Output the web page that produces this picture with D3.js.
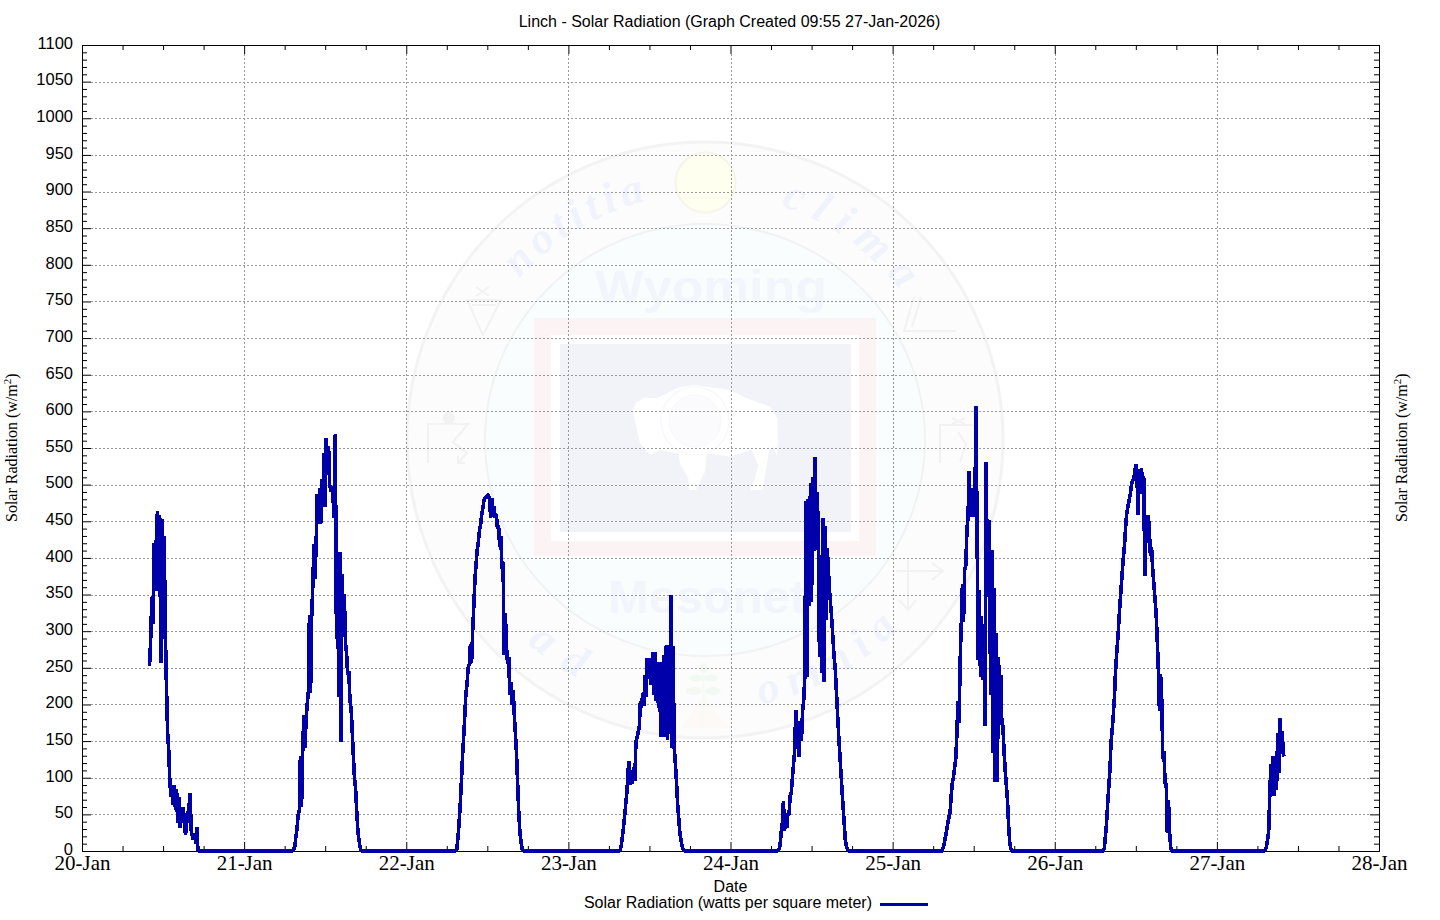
<!DOCTYPE html>
<html><head><meta charset="utf-8">
<script src="https://cdn.jsdelivr.net/npm/d3@7"></script>
<style>
html,body{margin:0;padding:0;background:#fff;}
svg{display:block;}
.axis path.domain{stroke:#000;}
.axis line{stroke:#000;}
</style></head>
<body><div id="chart"></div>
<script>
// Each peak: 10-minute samples (W/m2) starting at the matching hour after 20-Jan 00:00
const sampleStepHours = 1 / 6;
const peakStartHours = [10, 31, 55.1667, 79.5, 103, 127.3333, 151.1667, 175];
const peak1 = [253,288,347,310,420,355,424,464,355,458,257,453,290,430,300,226,163,138,95,74,88,63,90,56,85,38,74,31,60,40,60,35,22,38,50,60,79,29,20,15,24,10,33,0];
const peak2 = [0,0,2,6,20,30,50,55,130,60,135,185,140,178,200,215,322,215,320,363,419,371,422,487,446,496,446,507,469,543,469,563,520,552,500,491,498,480,455,569,290,400,210,408,149,378,310,350,285,270,240,245,205,195,165,130,100,85,55,28,15,5,0];
const peak3 = [0,0,3,20,40,65,95,130,155,185,215,228,250,255,282,256,300,335,370,392,410,421,437,445,458,468,478,482,484,485,487,478,455,482,463,470,455,460,440,445,415,430,385,395,268,325,280,255,265,213,230,200,220,185,160,130,90,50,25,12,2,0];
const peak4 = [0,2,8,20,33,48,65,80,110,123,90,110,92,115,96,150,155,162,170,205,195,216,198,240,210,263,240,263,227,245,272,213,272,205,258,195,258,155,258,155,268,155,281,152,281,160,349,141,280,141,120,95,65,45,25,15,6,2,0];
const peak5 = [0,2,8,25,38,68,27,52,32,52,50,75,80,100,118,138,193,140,161,129,177,150,190,205,238,477,238,480,334,502,340,511,409,538,411,490,436,265,404,243,454,231,443,315,413,381,355,335,315,290,265,250,220,190,160,135,110,85,60,38,15,5,2,0];
const peak6 = [0,5,12,20,28,38,46,52,75,93,100,113,125,156,204,175,261,311,365,313,384,390,438,456,518,456,495,456,470,456,607,438,261,356,238,320,234,302,170,531,347,447,452,213,411,134,359,94,297,94,265,215,240,175,170,135,110,90,70,35,12,3,0];
const peak7 = [0,3,20,38,65,88,110,148,165,185,210,245,270,289,315,339,360,382,402,418,443,462,470,478,486,498,505,508,515,528,515,459,521,487,523,500,512,375,459,421,459,439,403,415,385,365,345,325,290,248,191,241,207,125,136,91,93,25,70,25,5,0];
const peak8 = [0,2,6,15,27,77,118,77,129,75,97,84,161,106,182,132,163,132,129];
const peaks = [peak1,peak2,peak3,peak4,peak5,peak6,peak7,peak8];

const dayLabels = ["20-Jan","21-Jan","22-Jan","23-Jan","24-Jan","25-Jan","26-Jan","27-Jan","28-Jan"];
const yMajorTicks = d3.range(0, 1101, 50);
const yMinorTicks = d3.range(0, 1101, 10).filter(d => d % 50 !== 0);
const xMajorTicks = dayLabels.map((d,i) => i * 24);
const xMinorTicks = d3.range(0, 193, 6).filter(d => d % 24 !== 0);

const W = 1440, H = 920;
const m = {l:82, r:1379, t:45, b:851};
const svg = d3.select("#chart").append("svg").attr("width",W).attr("height",H);
const x = d3.scaleLinear().domain([0,192]).range([m.l,m.r]);
const y = d3.scaleLinear().domain([0,1100]).range([m.b,m.t]);
const sans = "'Liberation Sans',Arial,sans-serif", serif = "'Liberation Serif','Times New Roman',serif";

/* ---------- faint background seal ---------- */
const wm = svg.append("g").attr("class","watermark");
const cx = 705, cy = 440;
wm.append("ellipse").attr("cx",cx).attr("cy",cy).attr("rx",298).attr("ry",298).attr("fill","#fcfcfc").attr("stroke","#f3f3f3").attr("stroke-width",3);
wm.append("ellipse").attr("cx",cx).attr("cy",cy).attr("rx",220).attr("ry",216).attr("fill","#f9fdfe").attr("stroke","#f1f3f3").attr("stroke-width",2);
wm.append("circle").attr("cx",705.5).attr("cy",182.5).attr("r",30).attr("fill","#fffff0").attr("stroke","#f5f5ea").attr("stroke-width",2);
wm.append("rect").attr("x",534).attr("y",318).attr("width",342).attr("height",238).attr("fill","#fcf4f4");
wm.append("rect").attr("x",551).attr("y",335).attr("width",308).attr("height",206).attr("fill","#ffffff");
wm.append("rect").attr("x",560).attr("y",344).attr("width",291).attr("height",188).attr("fill","#f2f3f9");
// bison
const bison = [[38,105],[50,80],[75,68],[110,70],[135,58],[170,40],[220,30],[270,37],[330,45],[380,70],[450,95],[472,130],[474,200],[470,245],[462,215],[448,225],[440,270],[428,345],[390,345],[405,310],[415,270],[395,225],[330,245],[260,235],[255,290],[228,345],[207,345],[205,310],[180,265],[175,235],[120,225],[90,240],[60,205],[45,140]];
wm.append("path").attr("d", d3.line().x(d=>620+d[0]/3).y(d=>375+d[1]/3)(bison)+"Z").attr("fill","#ffffff");
wm.append("circle").attr("cx",695).attr("cy",421).attr("r",34).attr("fill","none").attr("stroke","#f7f8fb").attr("stroke-width",1.5);
wm.append("circle").attr("cx",695).attr("cy",421).attr("r",26).attr("fill","#fbfbfd").attr("stroke","#f7f8fb");
// words
const wmBold = {fill:"#f3f5fc","font-family":sans,"font-weight":"bold"};
function wmText(t,px,py,fs,wd){
  const s = wm.append("text").attr("x",px).attr("y",py).attr("text-anchor","middle").attr("font-size",fs).attr("textLength",wd).attr("lengthAdjust","spacingAndGlyphs").text(t);
  Object.entries(wmBold).forEach(([k,v])=>s.attr(k,v));
}
wmText("Wyoming",711,303,46,232);
wmText("Mesonet",707,613,46,198);
const defs = svg.append("defs");
defs.append("path").attr("id","arcTop").attr("d",`M ${cx-246} ${cy} A 246 246 0 0 1 ${cx+246} ${cy}`);
defs.append("path").attr("id","arcBot").attr("d",`M ${cx-270} ${cy} A 270 270 0 0 0 ${cx+270} ${cy}`);
function arcText(id,t,off,ls,fs){
  wm.append("text").attr("font-family",serif).attr("font-style","italic").attr("font-weight","bold").attr("font-size",fs)
    .attr("letter-spacing",ls).attr("fill","#f1f3fc")
    .append("textPath").attr("href","#"+id).attr("startOffset",off).text(t);
}
arcText("arcTop","notitia",176,5.5,44);
arcText("arcTop","clima",463,12,44);
arcText("arcBot","ad",230,18,44);
arcText("arcBot","omnia",480,11,44);
// small symbols
const symbols = [
  "M467 300H501L483 335Z","M472 305H496","M476 287L489 296M476 296L489 287",
  "M428 463V424H468L453 442L467 453L458 463M458 456V463H465",
  "M914 297L904 331H956M921 297L912 327",
  "M940 463V425H973M952 418L965 424M952 424L965 418M958 432L966 444L960 462",
  "M908 560V610M896 571H943M932 563L943 571L932 580M899 600L908 610L916 600"];
symbols.forEach(p=>wm.append("path").attr("d",p).attr("fill","none").attr("stroke","#f2f2f2").attr("stroke-width",2));
wm.append("circle").attr("cx",449).attr("cy",418).attr("r",6).attr("fill","#f2f2f2");
wm.append("path").attr("d","M681 728L703.5 697L728 728Z").attr("fill","#fdf9f7");
wm.append("path").attr("d","M703.5 663V727").attr("stroke","#f6faf6").attr("stroke-width",2);
[[703.5,668,4,5],[696,678,7,3.5],[711,678,7,3.5],[694,691,8,4],[713,691,8,4]].forEach(e=>
  wm.append("ellipse").attr("cx",e[0]).attr("cy",e[1]).attr("rx",e[2]).attr("ry",e[3]).attr("fill","#f2f9f2"));

/* ---------- grid ---------- */
const gridStyle = g => g.attr("stroke","#999").attr("stroke-width",1).attr("stroke-dasharray","2,2").attr("fill","none").attr("shape-rendering","crispEdges");
const grid = svg.append("g").call(gridStyle);
grid.selectAll(".gy").data(yMajorTicks.filter(d=>d>0&&d<1100)).join("line")
  .attr("x1",m.l+9).attr("x2",m.r-9).attr("y1",d=>Math.round(y(d))+.5).attr("y2",d=>Math.round(y(d))+.5);
grid.selectAll(".gx").data(xMajorTicks.slice(1,-1)).join("line")
  .attr("y1",m.t+9).attr("y2",m.b-9).attr("x1",d=>Math.round(x(d))+.5).attr("x2",d=>Math.round(x(d))+.5);

/* ---------- axes ---------- */
function addAxis(axis, tx, ty){
  return svg.append("g").attr("class","axis").attr("transform",`translate(${tx},${ty})`).call(axis);
}
const noLabel = () => "";
const yl = addAxis(d3.axisLeft(y).tickValues(yMajorTicks).tickSizeInner(-9).tickSizeOuter(0).tickPadding(9).tickFormat(d3.format("d")), m.l, 0);
addAxis(d3.axisLeft(y).tickValues(yMinorTicks).tickSizeInner(-5).tickSizeOuter(0).tickFormat(noLabel), m.l, 0);
addAxis(d3.axisRight(y).tickValues(yMajorTicks).tickSizeInner(-9).tickSizeOuter(0).tickFormat(noLabel), m.r, 0);
addAxis(d3.axisRight(y).tickValues(yMinorTicks).tickSizeInner(-5).tickSizeOuter(0).tickFormat(noLabel), m.r, 0);
const xb = addAxis(d3.axisBottom(x).tickValues(xMajorTicks).tickSizeInner(-9).tickSizeOuter(0).tickFormat((d,i)=>dayLabels[i]), 0, m.b);
addAxis(d3.axisBottom(x).tickValues(xMinorTicks).tickSizeInner(-5).tickSizeOuter(0).tickFormat(noLabel), 0, m.b);
addAxis(d3.axisTop(x).tickValues(xMajorTicks).tickSizeInner(-9).tickSizeOuter(0).tickFormat(noLabel), 0, m.t);
addAxis(d3.axisTop(x).tickValues(xMinorTicks).tickSizeInner(-5).tickSizeOuter(0).tickFormat(noLabel), 0, m.t);
yl.selectAll("text").attr("font-family",sans).attr("font-size",16.5).attr("fill","#000").attr("dy","0.2em");
xb.selectAll("text").attr("font-family",serif).attr("font-size",21).attr("fill","#000").attr("y",19).attr("dy",0);

/* ---------- data line ---------- */
const points = [];
peaks.forEach((vals,k)=>vals.forEach((v,i)=>points.push([peakStartHours[k]+i*sampleStepHours, v])));
const line = d3.line().x(d=>x(d[0])).y(d=>y(d[1]));
const stroke = "#0000aa";
svg.append("path").datum(points).attr("d",line).attr("fill","none").attr("stroke",stroke).attr("stroke-width",3.6)
  .attr("stroke-linejoin","bevel").attr("shape-rendering","crispEdges");

/* ---------- labels ---------- */
svg.append("text").attr("x",729.5).attr("y",26.5).attr("text-anchor","middle").attr("font-family",sans).attr("font-size",16).attr("fill","#000")
  .text("Linch - Solar Radiation (Graph Created 09:55 27-Jan-2026)");
svg.append("text").attr("x",730.5).attr("y",891.5).attr("text-anchor","middle").attr("font-family",sans).attr("font-size",16).attr("fill","#000").text("Date");
svg.append("text").attr("x",872).attr("y",907.5).attr("text-anchor","end").attr("font-family",sans).attr("font-size",16).attr("fill","#000")
  .text("Solar Radiation (watts per square meter)");
svg.append("line").attr("x1",880).attr("x2",928).attr("y1",904).attr("y2",904).attr("stroke",stroke).attr("stroke-width",3).attr("shape-rendering","crispEdges");
function yTitle(px){
  const t = svg.append("text").attr("transform",`translate(${px},522) rotate(-90)`).attr("font-family",serif).attr("font-size",16).attr("fill","#000");
  t.append("tspan").text("Solar Radiation (w/m");
  t.append("tspan").attr("dy",-6).attr("font-size",11).text("2");
  t.append("tspan").attr("dy",6).text(")");
}
yTitle(17); yTitle(1407);
</script>
</body></html>
